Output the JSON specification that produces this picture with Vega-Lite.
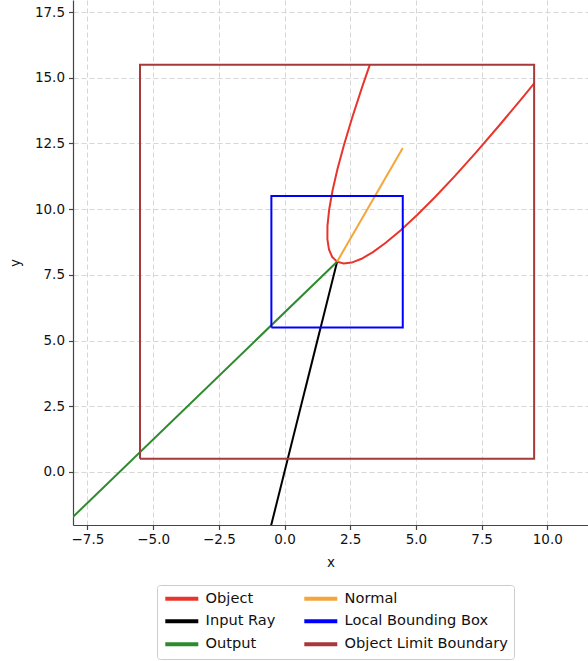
{
  "$schema": "https://vega.github.io/schema/vega-lite/v6.json",
  "width": 515,
  "height": 525,
  "autosize": {"type": "none"},
  "padding": {"left": 73, "top": 0, "right": 0, "bottom": 136},
  "background": "white",
  "config": {
    "view": {"stroke": null},
    "font": "DejaVu Sans",
    "axis": {
      "labelFont": "DejaVu Sans",
      "labelFontSize": 13.5,
      "labelColor": "#111",
      "titleFont": "DejaVu Sans",
      "titleFontSize": 13.5,
      "titleFontWeight": "normal",
      "titleColor": "#111",
      "domainColor": "#444",
      "domainWidth": 1.2,
      "tickColor": "#444",
      "tickSize": 4.5,
      "tickWidth": 1.2,
      "gridColor": "#d6d6d6",
      "gridDash": [5, 3],
      "gridWidth": 1
    }
  },
  "data": {
    "values": [
      {"series": "Object", "i": 0, "x": 3.2485, "y": 15.498},
      {"series": "Object", "i": 1, "x": 2.96, "y": 14.6625},
      {"series": "Object", "i": 2, "x": 2.5828, "y": 13.5091},
      {"series": "Object", "i": 3, "x": 2.268, "y": 12.464},
      {"series": "Object", "i": 4, "x": 2.0158, "y": 11.5271},
      {"series": "Object", "i": 5, "x": 1.826, "y": 10.6985},
      {"series": "Object", "i": 6, "x": 1.6988, "y": 9.9781},
      {"series": "Object", "i": 7, "x": 1.634, "y": 9.366},
      {"series": "Object", "i": 8, "x": 1.6318, "y": 8.8621},
      {"series": "Object", "i": 9, "x": 1.692, "y": 8.4665},
      {"series": "Object", "i": 10, "x": 1.8148, "y": 8.1791},
      {"series": "Object", "i": 11, "x": 2.0, "y": 8.0},
      {"series": "Object", "i": 12, "x": 2.2478, "y": 7.9291},
      {"series": "Object", "i": 13, "x": 2.558, "y": 7.9665},
      {"series": "Object", "i": 14, "x": 2.9308, "y": 8.1121},
      {"series": "Object", "i": 15, "x": 3.366, "y": 8.366},
      {"series": "Object", "i": 16, "x": 3.8638, "y": 8.7281},
      {"series": "Object", "i": 17, "x": 4.424, "y": 9.1985},
      {"series": "Object", "i": 18, "x": 5.0468, "y": 9.7771},
      {"series": "Object", "i": 19, "x": 5.732, "y": 10.464},
      {"series": "Object", "i": 20, "x": 6.4798, "y": 11.2591},
      {"series": "Object", "i": 21, "x": 7.29, "y": 12.1625},
      {"series": "Object", "i": 22, "x": 8.1628, "y": 13.1741},
      {"series": "Object", "i": 23, "x": 9.098, "y": 14.294},
      {"series": "Object", "i": 24, "x": 9.4999, "y": 14.7847},
      {"series": "Input Ray", "i": 0, "x": -1.0, "y": -4.0},
      {"series": "Input Ray", "i": 1, "x": 2.0, "y": 8.0},
      {"series": "Output", "i": 0, "x": 2.0, "y": 8.0},
      {"series": "Output", "i": 1, "x": -9.0, "y": -2.63},
      {"series": "Normal", "i": 0, "x": 2.0, "y": 8.0},
      {"series": "Normal", "i": 1, "x": 4.5, "y": 12.33},
      {"series": "Local Bounding Box", "i": 0, "x": -0.5, "y": 5.5},
      {"series": "Local Bounding Box", "i": 1, "x": 4.5, "y": 5.5},
      {"series": "Local Bounding Box", "i": 2, "x": 4.5, "y": 10.5},
      {"series": "Local Bounding Box", "i": 3, "x": -0.5, "y": 10.5},
      {"series": "Local Bounding Box", "i": 4, "x": -0.5, "y": 5.5},
      {"series": "Object Limit Boundary", "i": 0, "x": -5.5, "y": 0.5},
      {"series": "Object Limit Boundary", "i": 1, "x": 9.5, "y": 0.5},
      {"series": "Object Limit Boundary", "i": 2, "x": 9.5, "y": 15.5},
      {"series": "Object Limit Boundary", "i": 3, "x": -5.5, "y": 15.5},
      {"series": "Object Limit Boundary", "i": 4, "x": -5.5, "y": 0.5}
    ]
  },
  "mark": {"type": "line", "clip": true, "strokeWidth": 2, "strokeJoin": "miter", "strokeCap": "butt"},
  "encoding": {
    "x": {
      "field": "x",
      "type": "quantitative",
      "scale": {"domain": [-8.05, 11.55], "nice": false, "zero": false},
      "axis": {
        "title": "x",
        "values": [-7.5, -5, -2.5, 0, 2.5, 5, 7.5, 10],
        "format": ".1f",
        "labelPadding": 3,
        "titlePadding": 9
      }
    },
    "y": {
      "field": "y",
      "type": "quantitative",
      "scale": {"domain": [-2.02, 17.96], "nice": false, "zero": false},
      "axis": {
        "title": "y",
        "values": [0, 2.5, 5, 7.5, 10, 12.5, 15, 17.5],
        "format": ".1f",
        "labelPadding": 4,
        "titlePadding": 12
      }
    },
    "order": {"field": "i", "type": "quantitative"},
    "color": {
      "field": "series",
      "type": "nominal",
      "scale": {
        "domain": ["Object", "Input Ray", "Output", "Normal", "Local Bounding Box", "Object Limit Boundary"],
        "range": ["#e8352b", "#000000", "#2e8a2e", "#f4a63a", "#0000ff", "#a63a3a"]
      },
      "legend": {
        "title": null,
        "orient": "none",
        "legendX": 84,
        "legendY": 585,
        "columns": 2,
        "columnPadding": 20,
        "rowPadding": 6,
        "padding": 6,
        "symbolType": "M-1,0H5.6",
        "symbolSize": 100,
        "symbolStrokeWidth": 4,
        "labelFont": "DejaVu Sans",
        "labelFontSize": 14.6,
        "labelColor": "#111",
        "labelLimit": 300,
        "labelOffset": 28,
        "fillColor": "white",
        "strokeColor": "#cccccc",
        "cornerRadius": 3
      }
    }
  }
}
